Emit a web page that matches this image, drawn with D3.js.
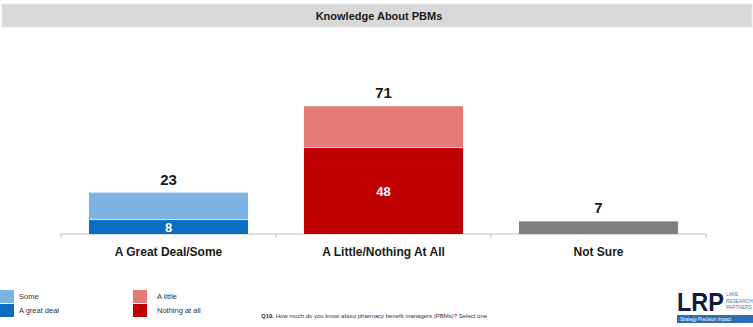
<!DOCTYPE html>
<html>
<head>
<meta charset="utf-8">
<script src="https://cdn.jsdelivr.net/npm/d3@7"></script>
<style>
  html, body { margin: 0; padding: 0; background: #fff; }
  svg { display: block; }
</style>
</head>
<body>
<svg id="chart" width="753" height="327"></svg>
<script>
// ---- Data ----
const title = "Knowledge About PBMs";
const categories = ["A Great Deal/Some", "A Little/Nothing At All", "Not Sure"];
const totals = [23, 71, 7];
// stacked segments: bottom (strong) and top (weak)
const strongValues = [8, 48, 7];          // A great deal / Nothing at all / Not sure
const weakValues = [15, 23, 0];           // Some / A little
const showInner = [true, true, false];
const legendBlue = ["Some", "A great deal"];
const legendRed = ["A little", "Nothing at all"];
const questionBold = "Q19.";
const questionText = " How much do you know about pharmacy benefit managers (PBMs)? Select one";

// ---- Colors ----
const strongColors = ["#0b6fc1", "#c00000", "#808080"];
const weakColors = ["#7db3e2", "#e57b79", "#808080"];

const svg = d3.select("#chart");
const font = "'Liberation Sans', Arial, sans-serif";

// Title band
svg.append("rect").attr("x", 2).attr("y", 4).attr("width", 750).attr("height", 23)
  .attr("fill", "#d9d9d9").attr("stroke", "#e8e8e8").attr("stroke-width", 1);
svg.append("text").attr("x", 379).attr("y", 19.5).attr("text-anchor", "middle")
  .attr("font-family", "'Liberation Sans Narrow', 'Liberation Sans', Arial, sans-serif")
  .attr("font-weight", "bold").attr("font-size", 11).attr("fill", "#1a1a1a").text(title);

// Scales
const x = d3.scaleBand().domain(categories).range([61, 706]).paddingInner(0.26).paddingOuter(0.13);
const y = d3.scaleLinear().domain([0, 80]).range([234, 90]);

// Axis
const axis = d3.axisBottom(x).tickSize(0).tickFormat("");
const gAxis = svg.append("g").attr("transform", `translate(0,${y(0)})`).call(axis);
gAxis.select(".domain").attr("stroke", "#bfbfbf").attr("d", `M61,0H706`);
// band boundary ticks
const boundaries = d3.range(categories.length + 1).map(i => 61 + i * (645 / categories.length));
gAxis.selectAll(".bt").data(boundaries).enter().append("line")
  .attr("x1", d => d).attr("x2", d => d).attr("y1", 0).attr("y2", 4)
  .attr("stroke", "#bfbfbf");

// Bars
const g = svg.append("g");
categories.forEach((c, i) => {
  const bx = x(c), bw = x.bandwidth();
  g.append("rect").attr("x", bx).attr("width", bw)
    .attr("y", y(strongValues[i])).attr("height", y(0) - y(strongValues[i]))
    .attr("fill", strongColors[i]);
  if (weakValues[i] > 0) {
    g.append("rect").attr("x", bx).attr("width", bw)
      .attr("y", y(strongValues[i] + weakValues[i]))
      .attr("height", y(strongValues[i]) - y(strongValues[i] + weakValues[i]))
      .attr("fill", weakColors[i]);
    g.append("line").attr("x1", bx).attr("x2", bx + bw)
      .attr("y1", y(strongValues[i])).attr("y2", y(strongValues[i]))
      .attr("stroke", "#ffffff").attr("stroke-opacity", 0.6).attr("stroke-width", 1);
  }
  // total label
  g.append("text").attr("x", bx + bw / 2).attr("y", y(totals[i]) - 8)
    .attr("text-anchor", "middle").attr("font-family", font).attr("font-weight", "bold")
    .attr("font-size", 15).attr("fill", "#1a1a1a").text(totals[i]);
  // inner label
  if (showInner[i]) {
    const mid = (y(0) + y(strongValues[i])) / 2;
    g.append("text").attr("x", bx + bw / 2).attr("y", mid + 5)
      .attr("text-anchor", "middle").attr("font-family", font).attr("font-weight", "bold")
      .attr("font-size", 13).attr("fill", "#ffffff").text(strongValues[i]);
  }
  // category label
  g.append("text").attr("x", bx + bw / 2).attr("y", 256)
    .attr("text-anchor", "middle").attr("font-family", font).attr("font-weight", "bold")
    .attr("font-size", 12).attr("fill", "#1a1a1a").text(c);
});

// Legend
function legend(items, colors, lx, tx) {
  items.forEach((t, i) => {
    const ly = 290 + i * 14;
    svg.append("rect").attr("x", lx).attr("y", ly).attr("width", 14).attr("height", 13).attr("fill", colors[i]);
    svg.append("text").attr("x", tx).attr("y", ly + 9).attr("font-family", font)
      .attr("font-size", 7.5).attr("fill", "#333").text(t);
  });
}
legend(legendBlue, [weakColors[0], strongColors[0]], 0, 19);
legend(legendRed, [weakColors[1], strongColors[1]], 133, 157);

// Question note
const q = svg.append("text").attr("x", 261).attr("y", 318).attr("font-family", font)
  .attr("font-size", 6).attr("fill", "#333");
q.append("tspan").attr("font-weight", "bold").text(questionBold);
q.append("tspan").text(questionText);

// Logo
svg.append("text").attr("x", 677).attr("y", 311).attr("font-family", font)
  .attr("font-weight", "bold").attr("font-size", 25).attr("fill", "#14193f")
  .attr("textLength", 47).attr("lengthAdjust", "spacingAndGlyphs").text("LRP");
["LAKE", "RESEARCH", "PARTNERS"].forEach((t, i) => {
  svg.append("text").attr("x", 726).attr("y", 296 + i * 6.5).attr("font-family", font)
    .attr("font-size", 4.8).attr("fill", "#4a7fc0").text(t);
});
svg.append("rect").attr("x", 677).attr("y", 315).attr("width", 76).attr("height", 8).attr("fill", "#2f6db5");
svg.append("text").attr("x", 680).attr("y", 321).attr("font-family", font)
  .attr("font-size", 4.5).attr("fill", "#ffffff").text("Strategy  Precision  Impact");
</script>
</body>
</html>
